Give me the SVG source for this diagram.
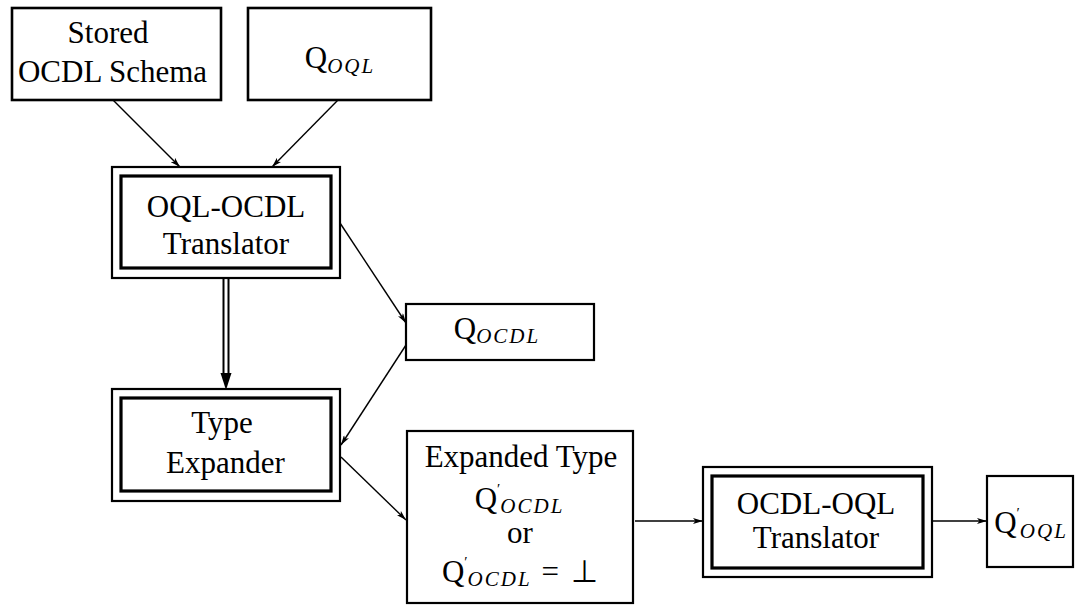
<svg xmlns="http://www.w3.org/2000/svg" width="1075" height="605" viewBox="0 0 1075 605">
<defs>
<style>
text{font-family:"Liberation Serif","Times New Roman",serif;font-size:31px;fill:#000;text-anchor:middle}
.sub{font-style:italic;font-size:21px;letter-spacing:2px}
.pr{font-size:15px}
.box{fill:#fff;stroke:#000;stroke-width:2.2}
.box2{fill:#fff;stroke:#000;stroke-width:2.6}
.inner{fill:none;stroke:#000;stroke-width:3.2}
.edge{fill:none;stroke:#000;stroke-width:1.4;marker-end:url(#ah)}
.dbl{fill:none;stroke:#000;stroke-width:2}
</style>
<marker id="ah" viewBox="0 0 10 6" refX="10" refY="3" markerWidth="10" markerHeight="6" markerUnits="userSpaceOnUse" orient="auto">
<path d="M0,0 L10,3 L0,6 L2.5,3 z" fill="#000"/>
</marker>
</defs>
<rect width="1075" height="605" fill="#fff"/>

<g id="connectors">
<line class="edge" x1="113" y1="100" x2="180" y2="167"/>
<line class="edge" x1="338" y1="100" x2="272" y2="167"/>
<line class="edge" x1="340" y1="223" x2="406" y2="323"/>
<line class="edge" x1="406" y1="345" x2="341" y2="445"/>
<line class="edge" x1="341" y1="457" x2="406" y2="520"/>
<line class="edge" x1="635" y1="521" x2="703" y2="521"/>
<line class="edge" x1="932" y1="521" x2="987" y2="521"/>
<line class="dbl" x1="223.5" y1="278" x2="223.5" y2="376"/>
<line class="dbl" x1="228.5" y1="278" x2="228.5" y2="376"/>
<polygon points="220.5,373 231.5,373 226,390" fill="#000"/>
</g>

<g id="stored">
<rect class="box2" x="12" y="8" width="209" height="92"/>
<text x="108" y="43">Stored</text>
<text x="112.5" y="82">OCDL Schema</text>
</g>

<g id="qoql">
<rect class="box2" x="248" y="8" width="183" height="92"/>
<text x="340" y="68">Q<tspan class="sub" dy="4.5">OQL</tspan></text>
</g>

<g id="oql-ocdl-translator">
<rect class="box" x="112" y="167" width="228" height="111"/>
<rect class="inner" x="121" y="176" width="210" height="92"/>
<text x="226" y="217">OQL-OCDL</text>
<text x="226" y="254">Translator</text>
</g>

<g id="qocdl">
<rect class="box" x="406" y="304" width="188" height="56"/>
<text x="497" y="339">Q<tspan class="sub" dy="4">OCDL</tspan></text>
</g>

<g id="type-expander">
<rect class="box" x="112" y="389" width="228" height="112"/>
<rect class="inner" x="121" y="398" width="210" height="93"/>
<text x="222" y="433">Type</text>
<text x="225.5" y="473">Expander</text>
</g>

<g id="expanded-type">
<rect class="box" x="407" y="431" width="226" height="172"/>
<text x="521" y="467">Expanded Type</text>
<text x="519.5" y="509">Q<tspan class="pr" dy="-15">′</tspan><tspan class="sub" dy="19">OCDL</tspan></text>
<text x="520" y="543">or</text>
<text x="520" y="582">Q<tspan class="pr" dy="-15">′</tspan><tspan class="sub" dy="19">OCDL</tspan><tspan dx="10" dy="-4">=</tspan><tspan dx="12">⊥</tspan></text>
</g>

<g id="ocdl-oql-translator">
<rect class="box" x="703" y="467" width="229" height="110"/>
<rect class="inner" x="712" y="476" width="211" height="92"/>
<text x="816" y="514">OCDL-OQL</text>
<text x="816" y="548">Translator</text>
</g>

<g id="qoql-prime">
<rect class="box" x="987" y="476" width="86" height="91"/>
<text x="1031" y="533">Q<tspan class="pr" dy="-15">′</tspan><tspan class="sub" dy="20">OQL</tspan></text>
</g>
</svg>
